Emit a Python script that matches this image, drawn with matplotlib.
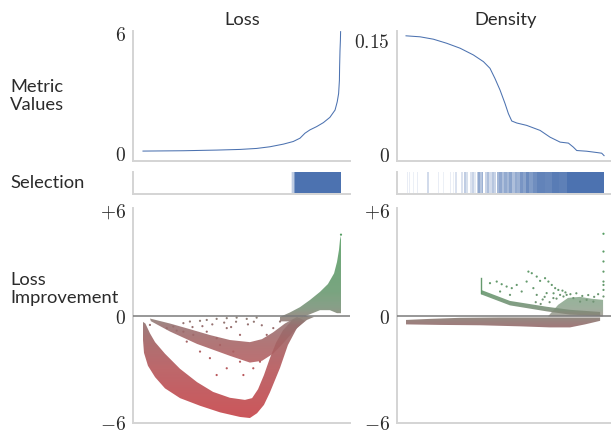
import numpy as np
import matplotlib
matplotlib.use("Agg")
import matplotlib.pyplot as plt
from matplotlib.patches import Polygon
from matplotlib.colors import LinearSegmentedColormap, Normalize

plt.rcParams['mathtext.fontset'] = 'cm'
plt.rcParams['font.family'] = ['Lato', 'DejaVu Sans']

# ---------------- data ----------------
# Metric value curves (x = normalised rank, 0..1)
loss_rank = [0.0, 0.204, 0.372, 0.490, 0.574, 0.641, 0.709, 0.759, 0.793, 0.818, 0.843,
             0.877, 0.911, 0.944, 0.970, 0.981, 0.988, 0.992, 0.993, 0.995, 0.997, 0.998]
loss_value = [0.1, 0.117, 0.15, 0.183, 0.233, 0.317, 0.45, 0.583, 0.75, 1.0, 1.167,
              1.333, 1.533, 1.8, 2.167, 2.583, 3.0, 3.667, 4.333, 5.167, 5.667, 6.117]

dens_rank = [0.0, 0.071, 0.138, 0.205, 0.273, 0.340, 0.391, 0.424, 0.449, 0.475, 0.5,
             0.517, 0.534, 0.559, 0.609, 0.677, 0.727, 0.778, 0.820, 0.845, 0.862,
             0.912, 0.963, 0.988, 1.0]
dens_value = [0.1557, 0.1544, 0.1513, 0.146, 0.1395, 0.1307, 0.1219, 0.1132, 0.100,
              0.0846, 0.0671, 0.0539, 0.0443, 0.0417, 0.0386, 0.032, 0.0232, 0.0167,
              0.0154, 0.0101, 0.0057, 0.0048, 0.0031, 0.0022, -0.001]

# Selection strips: (start, end, opacity)
loss_sel_start = [0.745, 0.755, 0.763, 0.770]
loss_sel_end = [0.755, 0.763, 0.770, 0.998]
loss_sel_alpha = [0.12, 0.35, 0.7, 1.0]

dens_sel_start = [0.003, 0.015, 0.035, 0.056, 0.106, 0.159, 0.187, 0.220, 0.237, 0.247,
                  0.278, 0.295, 0.303, 0.323, 0.335, 0.345, 0.359, 0.364, 0.375, 0.383,
                  0.399, 0.410, 0.420, 0.432, 0.444, 0.460, 0.472, 0.485, 0.497, 0.510,
                  0.522, 0.535, 0.548, 0.560, 0.576, 0.592, 0.607, 0.622, 0.640, 0.662,
                  0.700, 0.735, 0.770, 0.813]
dens_sel_end = [0.010, 0.020, 0.040, 0.063, 0.116, 0.167, 0.192, 0.227, 0.242, 0.258,
                0.288, 0.303, 0.313, 0.335, 0.345, 0.354, 0.364, 0.375, 0.383, 0.389,
                0.410, 0.420, 0.432, 0.444, 0.455, 0.472, 0.485, 0.497, 0.510, 0.522,
                0.535, 0.548, 0.560, 0.576, 0.592, 0.607, 0.622, 0.640, 0.662, 0.700,
                0.735, 0.770, 0.813, 1.0]
dens_sel_alpha = [0.12, 0.12, 0.10, 0.12, 0.25, 0.12, 0.10, 0.12, 0.10, 0.2,
                  0.2, 0.35, 0.22, 0.2, 0.3, 0.15, 0.35, 0.6, 0.4, 0.55,
                  0.3, 0.45, 0.25, 0.4, 0.3, 0.5, 0.62, 0.45, 0.6, 0.5,
                  0.65, 0.45, 0.6, 0.55, 0.75, 0.65, 0.82, 0.7, 0.8, 0.88,
                  0.85, 0.93, 0.9, 1.0]

# Loss improvement: band envelopes (rank, improvement)
lossA_outer_x = [0.0, 0.0, 0.005, 0.025, 0.061, 0.111, 0.187, 0.288, 0.389, 0.490, 0.540,
                 0.576, 0.611, 0.641, 0.692, 0.732, 0.778, 0.828, 0.864]
lossA_outer_y = [-0.31, -1.32, -2.05, -2.78, -3.42, -4.05, -4.60, -5.03, -5.40, -5.66, -5.72,
                 -5.45, -4.98, -4.28, -2.90, -1.61, -0.65, -0.20, -0.03]
lossA_inner_x = [0.012, 0.035, 0.061, 0.111, 0.187, 0.273, 0.354, 0.439, 0.515, 0.551,
                 0.581, 0.611, 0.641, 0.672, 0.707, 0.753, 0.818]
lossA_inner_y = [-0.40, -0.95, -1.45, -2.10, -2.95, -3.70, -4.25, -4.58, -4.70, -4.60,
                 -4.10, -3.30, -2.35, -1.48, -0.78, -0.22, 0.03]

lossB_upper_x = [0.035, 0.136, 0.237, 0.338, 0.439, 0.540, 0.601, 0.657, 0.717, 0.778]
lossB_upper_y = [-0.12, -0.40, -0.72, -1.05, -1.33, -1.45, -1.28, -0.90, -0.40, -0.03]
lossB_lower_x = [0.040, 0.136, 0.273, 0.439, 0.540, 0.601, 0.657, 0.707, 0.758, 0.818]
lossB_lower_y = [-0.27, -0.85, -1.55, -2.22, -2.60, -2.50, -2.10, -1.52, -0.88, -0.25]

lossC_upper_x = [0.692, 0.742, 0.793, 0.843, 0.894, 0.934, 0.965, 0.980, 0.990, 0.995, 1.0]
lossC_upper_y = [-0.03, 0.22, 0.52, 0.92, 1.38, 1.82, 2.42, 3.07, 3.75, 4.31, 4.54]
lossC_lower_x = [0.692, 0.742, 0.793, 0.843, 0.894, 0.944, 0.980, 1.0]
lossC_lower_y = [-0.28, -0.28, -0.10, 0.12, 0.35, 0.35, 0.18, 0.18]

loss_pts_x = [0.204, 0.237, 0.288, 0.322, 0.372, 0.423, 0.473, 0.524, 0.574, 0.204, 0.254,
              0.322, 0.372, 0.389, 0.456, 0.490, 0.423, 0.372, 0.507, 0.557, 0.591, 0.288,
              0.221, 0.338, 0.625, 0.658, 0.692, 0.490, 0.423, 0.153, 0.120, 0.035, 1.0,
              0.300, 0.350, 0.410, 0.445, 0.470, 0.530, 0.560, 0.600, 0.250, 0.170]
loss_pts_y = [-0.38, -0.29, -0.25, -0.20, -0.14, -0.10, -0.07, -0.14, -0.07, -0.86, -1.04,
              -0.86, -1.23, -1.61, -1.98, -2.55, -2.92, -3.30, -3.30, -2.92, -2.55, -1.98,
              -1.42, -2.35, -1.04, -0.66, -0.29, -1.04, -0.66, -0.57, -0.66, -0.48, 4.6,
              -0.55, -0.45, -0.35, -0.60, -0.30, -0.45, -0.30, -0.50, -0.60, -0.80]

# Density improvement
densA_upper_x = [0.0, 0.121, 0.273, 0.475, 0.727, 0.980]
densA_upper_y = [-0.20, -0.14, -0.08, -0.06, -0.06, -0.06]
densA_lower_x = [0.0, 0.172, 0.374, 0.576, 0.727, 0.828, 0.904, 0.980]
densA_lower_y = [-0.45, -0.48, -0.50, -0.56, -0.62, -0.62, -0.45, -0.25]

densB_upper_x = [0.379, 0.525, 0.712, 0.828, 0.980]
densB_upper_y = [1.49, 0.87, 0.54, 0.37, 0.25]
densB_lower_x = [0.379, 0.525, 0.712, 0.828, 0.980]
densB_lower_y = [1.24, 0.62, 0.28, 0.10, 0.03]

densC_x = [0.717, 0.768, 0.818, 0.879, 0.939, 0.995, 0.995]
densC_y = [0.0, 0.65, 1.04, 1.10, 0.99, 0.93, 0.0]

dens_jump_x = [0.379, 0.379]
dens_jump_y = [1.31, 2.15]

dens_pts_x = [0.424, 0.458, 0.483, 0.508, 0.534, 0.559, 0.584, 0.618, 0.635, 0.660, 0.677,
              0.702, 0.719, 0.736, 0.753, 0.769, 0.778, 0.795, 0.811, 0.845, 0.879, 0.912,
              0.946, 0.660, 0.710, 0.643, 0.609, 0.525, 0.475, 0.744,
              0.997, 0.997, 0.997, 0.997, 0.997, 0.997, 0.997, 0.997,
              0.690, 0.700, 0.725, 0.745, 0.760, 0.790, 0.805, 0.830, 0.860, 0.890,
              0.920, 0.950, 0.970, 0.680, 0.655]
dens_pts_y = [1.87, 1.96, 1.81, 1.68, 1.59, 1.77, 1.40, 2.52, 2.43, 2.24, 2.0,
              2.15, 1.96, 1.77, 1.59, 1.49, 1.21, 1.12, 1.21, 1.03, 0.83, 0.93,
              0.83, 1.21, 1.31, 1.59, 1.96, 1.21, 1.40, 1.03,
              4.65, 3.65, 3.09, 2.52, 1.96, 1.77, 1.49, 1.12,
              0.95, 1.10, 0.80, 1.30, 1.00, 1.45, 1.35, 1.25, 1.30, 1.15,
              1.20, 1.10, 1.25, 0.70, 0.80]

col_titles = ["Loss", "Density"]
row_labels = ["Metric\nValues", "Selection", "Loss\nImprovement"]

# ---------------- style ----------------
W, H = 611, 432
BLUE = '#4c72b0'
SPINE = '#d4d4d4'
TXT = '#2b2b2b'
LABEL_FS = 13.2
TICK_FS = 14
cmap = LinearSegmentedColormap.from_list('imp', [
    (0.0, '#c9454a'), (3/12.1, '#b85a5e'), (4.5/12.1, '#a66465'), (5.5/12.1, '#977070'),
    (6/12.1, '#8a8278'), (6.5/12.1, '#789278'), (7.5/12.1, '#66996e'), (1.0, '#4fa05e')])
norm = Normalize(-6, 6.1)

fig = plt.figure(figsize=(W/100, H/100), dpi=100)

def px_axes(x0, x1, ytop, ybot):
    return fig.add_axes([x0/W, 1 - ybot/H, (x1 - x0)/W, (ybot - ytop)/H])

def style(ax):
    for s in ['top', 'right']:
        ax.spines[s].set_visible(False)
    for s in ['left', 'bottom']:
        ax.spines[s].set_color(SPINE)
        ax.spines[s].set_linewidth(1.4)
    ax.tick_params(length=0, pad=5, labelcolor=TXT, labelsize=TICK_FS)
    ax.set_xticks([])

cols = [(133, 350, (-0.0505, 1.0455)), (397, 611, (-0.0455, 1.035))]
axes = []
for (x0, x1, xl) in cols:
    a1 = px_axes(x0, x1, 31, 161)
    a2 = px_axes(x0, x1, 172, 194)
    a3 = px_axes(x0, x1, 208, 423)
    for a in (a1, a2, a3):
        style(a)
        a.set_xlim(*xl)
    axes.append((a1, a2, a3))

grad = np.linspace(-6, 6.1, 300).reshape(-1, 1)

def grad_fill(ax, xs, ys, alpha):
    poly = Polygon(np.column_stack([xs, ys]), closed=True, facecolor='none',
                   edgecolor='none', transform=ax.transData)
    ax.add_patch(poly)
    xl = ax.get_xlim()
    im = ax.imshow(grad, extent=[xl[0], xl[1], -6, 6.1], origin='lower', aspect='auto',
                   cmap=cmap, norm=norm, alpha=alpha, interpolation='bilinear', zorder=2)
    im.set_clip_path(poly)

# ----- Loss column -----
a1, a2, a3 = axes[0]
a1.plot(loss_rank, loss_value, color=BLUE, lw=0.75)
a1.set_ylim(-0.4, 6.15)
a1.set_yticks([0, 6], ['$0$', '$6$'])

for s, e, al in zip(loss_sel_start, loss_sel_end, loss_sel_alpha):
    a2.axvspan(s, e, ymin=0.04, ymax=1.0, color=BLUE, alpha=al, lw=0)
a2.set_ylim(0, 1)
a2.set_yticks([])

grad_fill(a3, lossA_outer_x + lossA_inner_x[::-1], lossA_outer_y + lossA_inner_y[::-1], 0.92)
grad_fill(a3, lossB_upper_x + lossB_lower_x[::-1], lossB_upper_y + lossB_lower_y[::-1], 0.88)
grad_fill(a3, lossC_upper_x + lossC_lower_x[::-1], lossC_upper_y + lossC_lower_y[::-1], 0.88)
a3.scatter(loss_pts_x, loss_pts_y, s=2.5, c=loss_pts_y, cmap=cmap, norm=norm, lw=0, zorder=3)
a3.axhline(0, color='#7a7a7a', lw=1.1, zorder=4)
a3.set_ylim(-6, 6.1)
a3.set_xlim(*cols[0][2])
a3.set_yticks([-6, 0, 6], ['$-6$', '$0$', '$+6$'])

# ----- Density column -----
b1, b2, b3 = axes[1]
b1.plot(dens_rank, dens_value, color=BLUE, lw=0.75)
b1.set_ylim(-0.008, 0.162)
b1.set_yticks([0, 0.15], ['$0$', '$0.15$'])

for s, e, al in zip(dens_sel_start, dens_sel_end, dens_sel_alpha):
    b2.axvspan(s, e, ymin=0.04, ymax=1.0, color=BLUE, alpha=al, lw=0)
b2.set_ylim(0, 1)
b2.set_yticks([])

grad_fill(b3, densA_upper_x + densA_lower_x[::-1], densA_upper_y + densA_lower_y[::-1], 0.92)
grad_fill(b3, densB_upper_x + densB_lower_x[::-1], densB_upper_y + densB_lower_y[::-1], 0.9)
grad_fill(b3, densC_x, densC_y, 0.72)
b3.plot(dens_jump_x, dens_jump_y, color=cmap(norm(1.7)), lw=1.0, zorder=3)
b3.scatter(dens_pts_x, dens_pts_y, s=2.5, c=dens_pts_y, cmap=cmap, norm=norm, lw=0, zorder=3)
b3.axhline(0, color='#7a7a7a', lw=1.1, zorder=4)
b3.set_ylim(-6, 6.1)
b3.set_xlim(*cols[1][2])
b3.set_yticks([-6, 0, 6], ['$-6$', '$0$', '$+6$'])

# ----- texts -----
fig.text(242/W, 1 - 25/H, col_titles[0], ha='center', va='baseline', fontsize=LABEL_FS, color=TXT)
fig.text(506/W, 1 - 25/H, col_titles[1], ha='center', va='baseline', fontsize=LABEL_FS, color=TXT)
fig.text(10/W, 1 - 96/H, row_labels[0], ha='left', va='center', fontsize=LABEL_FS, color=TXT,
         linespacing=1.12)
fig.text(10/W, 1 - 183/H, row_labels[1], ha='left', va='center', fontsize=LABEL_FS, color=TXT)
fig.text(10/W, 1 - 289/H, row_labels[2], ha='left', va='center', fontsize=LABEL_FS, color=TXT,
         linespacing=1.12)

fig.savefig('out.png', dpi=100)
